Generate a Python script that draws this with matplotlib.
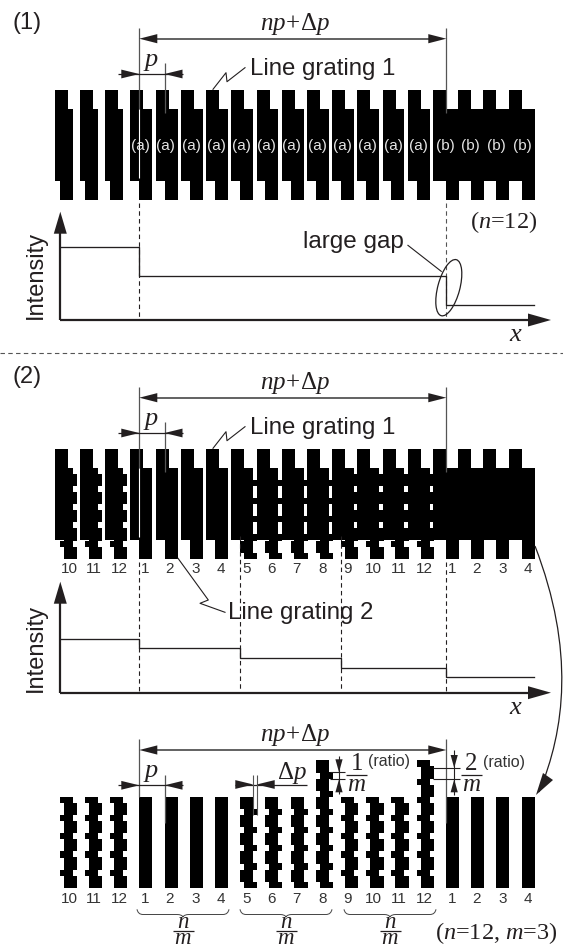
import matplotlib
matplotlib.use("Agg")
import matplotlib.pyplot as plt
from matplotlib.patches import Rectangle, Polygon, Ellipse, PathPatch
from matplotlib.path import Path

plt.rcParams["font.family"] = ["Liberation Sans", "DejaVu Sans"]
plt.rcParams["mathtext.fontset"] = "custom"
plt.rcParams["mathtext.rm"] = "Liberation Serif"
plt.rcParams["mathtext.it"] = "Liberation Serif:italic"
plt.rcParams["mathtext.bf"] = "Liberation Serif:bold"

# ===== data =====
g1_x = [54.9, 79.7, 104.5, 129.6, 155.8, 181.0, 206.1, 230.9, 257.1, 281.9, 307.0,
        332.1, 357.3, 382.8, 407.9, 433.0, 458.2, 483.0, 509.2]
g2_x = [60.0, 85.1, 109.9, 139.0, 165.2, 190.0, 215.1, 239.9, 265.0, 290.5, 316.0,
        341.1, 366.2, 391.4, 416.9, 446.0, 471.1, 496.2, 522.1]
line_numbers = ["10", "11", "12", "1", "2", "3", "4", "5", "6", "7", "8", "9", "10",
                "11", "12", "1", "2", "3", "4"]
# share of each period that sits in the left position (1 = straight line)
left_share = [1/3, 1/3, 1/3, 1, 1, 1, 1, 2/3, 2/3, 2/3, 2/3, 1/3, 1/3, 1/3, 1/3, 1, 1, 1, 1]
label_x = [68.9, 94.1, 119.6, 144.7, 169.8, 195.3, 220.5, 246.3, 271.8, 296.9, 322.4,
           347.6, 373.4, 398.9, 424.4, 451.7, 476.8, 502.7, 527.8]
ab_labels = ["(a)"] * 12 + ["(b)"] * 4
ab_x = [140.8, 165.9, 191.4, 216.5, 241.7, 266.8, 291.9, 317.0, 342.2, 367.3, 393.2,
        418.3, 445.2, 470.4, 496.6, 522.4]
steps1_x = [60.3, 139.3, 446.3, 534.3]
steps1_y = [247.3, 276.3, 305.0]
steps2_x = [60.3, 139.3, 240.3, 341.3, 446.3, 534.3]
steps2_y = [639.0, 648.3, 658.0, 667.7, 677.0]
brace_x = [(137, 229), (240, 332), (344, 436)]

BAR_W = 13.0
JAG = 4.3
PERIOD = 18.2
BLACK = "#000000"
INK = "#231f20"
GREY = "#555555"
X1, X2 = 139.3, 446.3

fig = plt.figure(figsize=(5.63, 9.48), dpi=100)
ax = fig.add_axes([0, 0, 1, 1])
ax.set_xlim(0, 563)
ax.set_ylim(948, 0)
ax.axis("off")


def bar(x, y0, y1, w=BAR_W):
    ax.add_patch(Rectangle((x, y0), w, y1 - y0, fc=BLACK, ec="none", zorder=2))


def line2(x0, y0, x1, y1, color=GREY, lw=0.95, ls="-", z=4):
    ax.plot([x0, x1], [y0, y1], color=color, lw=lw, ls=ls, zorder=z, solid_capstyle="butt")


def head(tip_x, tip_y, dx, dy, half):
    # triangle pointing at the tip, coming from (tip+dx, tip+dy)
    nx, ny = (0, half) if dx != 0 else (half, 0)
    pts = [(tip_x, tip_y), (tip_x + dx + nx, tip_y + dy + ny), (tip_x + dx - nx, tip_y + dy - ny)]
    ax.add_patch(Polygon(pts, fc=INK, ec="none", zorder=5))


def jag_line(x, top, bottom, share):
    # top..bottom cut into periods: left position then shifted right
    if share == 1:
        bar(x, top, bottom)
        return
    y = top
    while y < bottom - 0.5:
        bar(x, y, y + PERIOD * share + 0.2)
        # 0.6 extra on the left closes hairline seams against grating 1
        bar(x + JAG - 0.6, y + PERIOD * share, y + PERIOD, w=BAR_W + 0.6)
        y += PERIOD


def label(x, y, s, size=17, **kw):
    kw.setdefault("color", INK)
    ax.text(x, y, s, fontsize=size, ha=kw.pop("ha", "center"), va=kw.pop("va", "center"), zorder=6, **kw)


def serif(x, y, s, size=17.5, **kw):
    label(x, y, s, size=size, family="Liberation Serif", **kw)


def dimensions(dy):
    serif(295, 24 + dy, r"$np\!+\!\Delta p$", size=18)
    line2(X1 + 10, 38.7 + dy, X2 - 10, 38.7 + dy, lw=1.3)
    head(X1, 38.7 + dy, 18, 0, 4.6)
    head(X2, 38.7 + dy, -18, 0, 4.6)
    serif(151, 62 + dy, "$p$", size=19)
    line2(117.8, 74 + dy, 183, 74 + dy, color=INK, lw=0.9)
    head(X1, 74 + dy, -18, 0, 4.4)
    head(164.5, 74 + dy, 18, 0, 4.4)


def axes_arrows(y_axis, top):
    line2(60.3, top + 15, 60.3, y_axis, color=INK, lw=1.6)
    line2(59.5, y_axis, 535, y_axis, color=INK, lw=1.6)
    head(60.3, top, 0, 22, 6.5)
    head(551, y_axis, -23, 0, 6.5)
    label(36, y_axis - 45, "Intensity", rotation=90, size=17)
    serif(516, y_axis + 15, "$x$", size=19)


def grating_lines(dy):
    line2(X1, 28 + dy, X1, 108.7 + dy, lw=0.9)
    line2(X1, 108.7 + dy, X1, 178 + dy, color="white", lw=0.8)
    line2(X2, 28 + dy, X2, 113 + dy, lw=0.9)
    line2(164.5, 63 + dy, 164.5, 113 + dy, lw=0.9)


def zigzag(pts):
    ax.plot(*zip(*pts), color=INK, lw=0.8, zorder=4)


def fraction(x, y, top, bottom, half=10.5):
    line2(x - half, y, x + half, y, color=INK, lw=0.9)
    serif(x, y - 11, top, size=18)
    serif(x, y + 10, bottom, size=18)


# ===== panel 1 =====
label(13, 23, "(1)", ha="left", size=17)
for x in g1_x:
    bar(x, 90, 180.7)
for x in g2_x:
    bar(x, 108.7, 200)
for x, s in zip(ab_x, ab_labels):
    label(x, 145.7, s, size=11, color="#e4e4e4")
grating_lines(0)
dimensions(0)
label(249.5, 69, "Line grating 1", ha="left", size=17.3)
zigzag([(213, 89.3), (226, 72.7), (227, 81.7), (245, 67.7)])
line2(X1, 203, X1, 320, color=INK, lw=0.8, ls=(0, (4, 3)), z=3)
line2(X2, 203, X2, 320, color=GREY, lw=0.8, ls=(0, (4, 3)), z=3)
ax.step(steps1_x, steps1_y + [steps1_y[-1]], where="post", color=INK, lw=0.95, zorder=4)
axes_arrows(320, 211.7)
ax.add_patch(Ellipse((448.8, 287.7), 22, 58, angle=15, fc="none", ec=INK, lw=0.9, zorder=5))
label(303, 241.7, "large gap", ha="left", size=17.5)
line2(407.5, 245, 441.7, 271.7, color=INK, lw=0.8)
serif(503.7, 222, "($n$=12)", size=17.5)
line2(0, 353.3, 563, 353.3, color=GREY, lw=0.8, ls=(0, (4, 3)))

# ===== panel 2 =====
DY = 359
label(13, 376.7, "(2)", ha="left", size=17)
for x in g1_x:
    bar(x, 90 + DY, 180.7 + DY)
for x, share in zip(g2_x, left_share):
    jag_line(x, 108.7 + DY, 108.7 + DY + 5 * PERIOD, share)
grating_lines(DY)
dimensions(DY)
label(249.5, 69 + DY, "Line grating 1", ha="left", size=17.3)
zigzag([(213, 89.3 + DY), (226, 72.7 + DY), (227, 81.7 + DY), (245, 67.7 + DY)])
for x, s in zip(label_x, line_numbers):
    label(x, 569.3, s, size=11, color="#333333")
for x, y0 in zip(steps2_x[1:-1], [562, 536, 536, 562]):
    line2(x, y0, x, 692.7, color=INK, lw=0.8, ls=(0, (4, 3)), z=3)
ax.step(steps2_x, steps2_y + [steps2_y[-1]], where="post", color=INK, lw=0.95, zorder=4)
axes_arrows(692.7, 581.7)
label(228, 612.7, "Line grating 2", ha="left", size=17.3)
zigzag([(178, 558.3), (208.3, 600), (200, 603.3), (225, 612.3)])

# curved arrow down to the lower grating
curve = Path([(535, 546), (575, 650), (565, 730), (539, 792)],
             [Path.MOVETO, Path.CURVE4, Path.CURVE4, Path.CURVE4])
ax.add_patch(PathPatch(curve, fc="none", ec=INK, lw=0.9, zorder=4))
ax.add_patch(Polygon([(536, 795), (543, 773), (553, 780)], fc=INK, ec="none", zorder=5))

# ===== panel 3 =====
for i, (x, share) in enumerate(zip(g2_x, left_share)):
    top = 796.7
    if i in (10, 14):  # lines 8 and 12 are drawn taller for the ratio marks
        top -= 2 * PERIOD
    jag_line(x, top, 887.7, share)
for x, s in zip(label_x, line_numbers):
    label(x, 898.7, s, size=11, color="#333333")
D3 = 750 - 38.7
line2(X1, 739.3, X1, 796.7, lw=0.9)
line2(X2, 739.3, X2, 823, lw=0.9)
line2(164.5, 775, 164.5, 823.3, lw=0.9)
dimensions(D3)
# delta p
line2(235, 784.5, 307, 784.5, color=INK, lw=0.9)
head(253.3, 784.5, -18, 0, 4.4)
head(256.7, 784.5, 18, 0, 4.4)
line2(253.3, 775, 253.3, 815, lw=0.8)
line2(256.7, 775, 256.7, 815, lw=0.8)
serif(291.7, 773.3, r"$\Delta p$", size=18)
# ratio 1/m
line2(339, 755.7, 339, 794, color=INK, lw=0.8)
head(339, 772.3, 0, -13, 3.6)
head(339, 779.3, 0, 13, 3.6)
line2(330, 772.3, 345, 772.3, color=INK, lw=0.8)
line2(330, 779.3, 345, 779.3, color=INK, lw=0.8)
fraction(356.7, 775.3, "1", "$m$")
label(389, 761.7, "(ratio)", size=11.5, color="#333333")
# ratio 2/m
line2(454.2, 750, 454.2, 795, color=INK, lw=0.8)
head(454.2, 768, 0, -13, 3.6)
head(454.2, 779.3, 0, 13, 3.6)
line2(432.7, 768, 459.6, 768, color=INK, lw=0.8)
line2(432.7, 779.3, 459.6, 779.3, color=INK, lw=0.8)
fraction(471.5, 775.3, "2", "$m$")
label(504.5, 762, "(ratio)", size=11.5, color="#333333")

# braces and n/m under them
for x0, x1 in brace_x:
    mid = (x0 + x1) / 2
    y0, y1, y2 = 909.3, 914.5, 917
    brace = Path(
        [(x0, y0), (x0 + 1, y1), (x0 + 6, y1), (mid - 6, y1), (mid - 1, y1), (mid, y2),
         (mid + 1, y1), (mid + 6, y1), (x1 - 6, y1), (x1 - 1, y1), (x1, y0)],
        [Path.MOVETO, Path.CURVE3, Path.CURVE3, Path.LINETO, Path.CURVE3, Path.CURVE3,
         Path.CURVE3, Path.CURVE3, Path.LINETO, Path.CURVE3, Path.CURVE3])
    ax.add_patch(PathPatch(brace, fc="none", ec="#444444", lw=0.7, zorder=4))
    line2(mid - 10.5, 930.5, mid + 10.5, 930.5, color=INK, lw=0.9)
    serif(mid, 928, "$n$", size=16.5, va="baseline")
    serif(mid, 943.5, "$m$", size=16.5, va="baseline")
serif(496, 932.7, "($n$=12, $m$=3)", size=17.5)

fig.savefig("out.png", dpi=100)
